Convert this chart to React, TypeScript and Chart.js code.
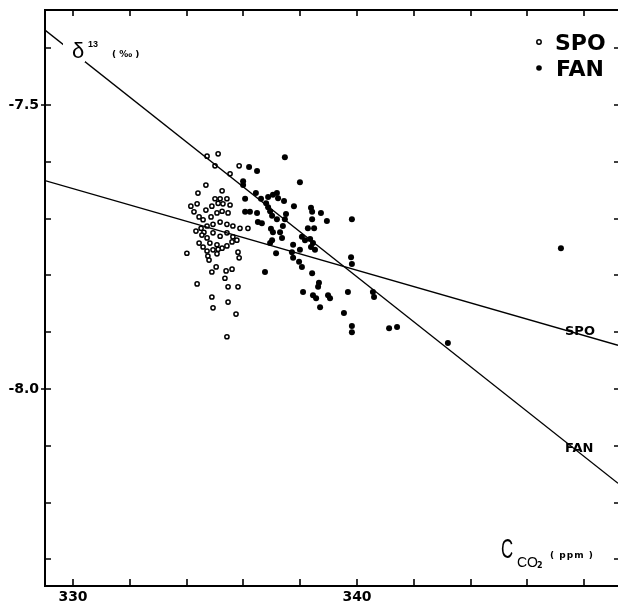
import React, { useEffect, useRef } from "react";
import { Chart, registerables } from "chart.js";

Chart.register(...registerables);

// ---- data ----
const SPO_X = [
  334.72, 335.11, 335.0, 335.85, 335.53, 334.68, 334.4, 335.25, 335.0, 335.18,
  335.42, 334.15, 334.37, 334.68, 334.89, 335.11, 335.28, 335.53, 334.26, 334.44,
  334.86, 335.07, 335.25, 335.46, 334.58, 334.33, 334.51, 334.61, 334.72, 334.93,
  335.18, 335.42, 335.63, 335.88, 336.16, 334.54, 334.72, 334.93, 335.18, 335.42,
  335.63, 335.77, 334.44, 334.58, 334.82, 335.07, 335.25, 335.42, 335.6, 334.01,
  334.72, 334.93, 335.11, 334.75, 335.07, 335.81, 335.85, 334.79, 335.04, 334.89,
  335.39, 335.6, 335.35, 334.37, 335.46, 335.81, 334.89, 335.46, 334.93, 335.74,
  335.42,
];
const SPO_Y = [
  -7.59, -7.586, -7.607, -7.607, -7.621, -7.641, -7.655, -7.651, -7.665, -7.665,
  -7.665, -7.678, -7.674, -7.685, -7.678, -7.673, -7.674, -7.676, -7.688, -7.697,
  -7.697, -7.69, -7.687, -7.69, -7.702, -7.722, -7.717, -7.724, -7.713, -7.71,
  -7.706, -7.71, -7.713, -7.717, -7.717, -7.729, -7.734, -7.725, -7.731, -7.725,
  -7.732, -7.738, -7.743, -7.75, -7.743, -7.746, -7.752, -7.748, -7.741, -7.761,
  -7.757, -7.755, -7.754, -7.766, -7.762, -7.759, -7.769, -7.773, -7.785, -7.794,
  -7.792, -7.789, -7.805, -7.815, -7.82, -7.82, -7.838, -7.847, -7.857, -7.868,
  -7.908,
];
const FAN_X = [
  337.46, 336.2, 336.48, 337.99, 335.99, 335.99, 336.44, 336.62, 336.87, 337.04,
  337.18, 337.22, 337.43, 336.06, 336.8, 336.87, 336.94, 337.01, 336.06, 336.23,
  336.48, 337.78, 338.38, 338.42, 338.73, 338.94, 338.42, 339.82, 336.51, 336.65,
  337.18, 337.5, 337.46, 337.39, 336.97, 337.04, 337.29, 337.36, 337.01, 336.94,
  337.15, 337.75, 337.71, 337.75, 337.99, 338.06, 338.17, 338.35, 338.45, 338.38,
  338.52, 337.96, 338.06, 338.27, 338.49, 336.76, 338.42, 338.66, 338.63, 338.1,
  338.45, 338.56, 338.98, 339.05, 338.7, 339.68, 339.79, 339.82, 339.54, 339.82,
  339.82, 340.56, 340.6, 341.13, 341.41, 343.2, 347.18,
];
const FAN_Y = [
  -7.592, -7.609, -7.616, -7.636, -7.634, -7.641, -7.655, -7.665, -7.662, -7.658,
  -7.655, -7.664, -7.669, -7.665, -7.673, -7.68, -7.687, -7.695, -7.688, -7.688,
  -7.69, -7.678, -7.681, -7.688, -7.69, -7.704, -7.701, -7.701, -7.706, -7.708,
  -7.701, -7.692, -7.701, -7.713, -7.718, -7.724, -7.724, -7.734, -7.738, -7.743,
  -7.761, -7.746, -7.759, -7.769, -7.755, -7.732, -7.738, -7.736, -7.743, -7.75,
  -7.755, -7.776, -7.785, -7.717, -7.717, -7.794, -7.796, -7.813, -7.82, -7.829,
  -7.835, -7.84, -7.835, -7.84, -7.856, -7.829, -7.768, -7.78, -7.866, -7.889,
  -7.9, -7.829, -7.838, -7.893, -7.891, -7.919, -7.752,
];
// regression lines (end points)
const FIT_X = [329.014, 349.19];
const SPO_FIT_Y = [-7.633, -7.923];
const FAN_FIT_Y = [-7.368, -8.166];

const X_MIN = 329.014;
const X_MAX = 349.19;
const Y_MIN = -8.3468;
const Y_MAX = -7.3327;
const X_TICKS = [330, 332, 334, 336, 338, 340, 342, 344, 346, 348];
const X_LABELS = [330, 340];
const Y_TICKS = [-7.4, -7.5, -7.6, -7.7, -7.8, -7.9, -8.0, -8.1, -8.2, -8.3];
const Y_LABELS = [-7.5, -8.0];

const toPts = (xs: number[], ys: number[]) => xs.map((x, i) => ({ x, y: ys[i] }));
const has = (arr: number[], v: number) => arr.some((a) => Math.abs(a - v) < 1e-6);

const framePlugin = {
  id: "frame",
  afterDatasetsDraw(chart: any) {
    const { ctx, chartArea, scales } = chart;
    const { left, top, right, bottom } = chartArea;
    const xs = scales.x;
    const ys = scales.y;
    ctx.save();
    ctx.strokeStyle = "#000";
    ctx.lineWidth = 2;
    ctx.beginPath();
    ctx.moveTo(left - 1, top);
    ctx.lineTo(right, top);
    ctx.moveTo(left, top - 1);
    ctx.lineTo(left, bottom + 1);
    ctx.moveTo(left - 1, bottom);
    ctx.lineTo(right, bottom);
    ctx.stroke();
    ctx.lineWidth = 1.6;
    ctx.beginPath();
    X_TICKS.forEach((v) => {
      const px = Math.round(xs.getPixelForValue(v));
      ctx.moveTo(px, top);
      ctx.lineTo(px, top + 6);
      ctx.moveTo(px, bottom);
      ctx.lineTo(px, bottom - 7);
    });
    Y_TICKS.forEach((v) => {
      const py = Math.round(ys.getPixelForValue(v));
      ctx.moveTo(has(Y_LABELS, v) ? left - 4 : left, py);
      ctx.lineTo(left + 6, py);
      ctx.moveTo(right - 4, py);
      ctx.lineTo(right, py);
    });
    ctx.stroke();

    // delta label with white background breaking the line
    const dx = left + 27;
    const dy = top + 48;
    ctx.fillStyle = "#fff";
    ctx.fillRect(dx - 9, dy - 22, 22, 26);
    ctx.fillStyle = "#000";
    ctx.textBaseline = "alphabetic";
    ctx.textAlign = "left";
    ctx.font = "22px 'Liberation Sans'";
    ctx.fillText("δ", dx, dy);
    ctx.font = "bold 9px 'Liberation Sans'";
    ctx.fillText("13", dx + 16, dy - 11);
    ctx.font = "bold 9px 'DejaVu Sans'";
    ctx.fillText("( ‰ )", dx + 40, dy - 1);

    // legend (top right)
    ctx.lineWidth = 1.5;
    ctx.beginPath();
    ctx.arc(539, top + 32, 2.2, 0, Math.PI * 2);
    ctx.stroke();
    ctx.beginPath();
    ctx.arc(539, top + 58, 2.8, 0, Math.PI * 2);
    ctx.fill();
    ctx.font = "bold 22px 'DejaVu Sans'";
    ctx.fillText("SPO", 555, top + 40);
    ctx.fillText("FAN", 556, top + 66);

    // line labels
    ctx.font = "bold 13px 'DejaVu Sans'";
    ctx.fillText("SPO", 565, ys.getPixelForValue(-7.5) + 230);
    ctx.fillText("FAN", 565, ys.getPixelForValue(-7.5) + 347);

    // x axis title
    const cy = bottom - 28;
    ctx.save();
    ctx.translate(501, cy);
    ctx.scale(0.6, 1);
    ctx.font = "28px 'Liberation Sans'";
    ctx.fillText("C", 0, 0);
    ctx.restore();
    ctx.font = "14px 'Liberation Sans'";
    ctx.fillText("CO", 517, cy + 9);
    ctx.font = "bold 8px 'DejaVu Sans'";
    ctx.fillText("2", 537, cy + 10);
    ctx.font = "bold 9px 'DejaVu Sans'";
    (ctx as any).letterSpacing = "1px";
    ctx.fillText("( ppm )", 550, cy);
    ctx.restore();
  },
};

export default function App() {
  const ref = useRef<HTMLCanvasElement | null>(null);
  useEffect(() => {
    if (!ref.current) return;
    const tickFont = { family: "'DejaVu Sans'", size: 14, weight: "bold" as const };
    const chart = new Chart(ref.current, {
      type: "scatter",
      data: {
        datasets: [
          {
            type: "line",
            label: "SPO fit",
            data: toPts(FIT_X, SPO_FIT_Y),
            borderColor: "#000",
            borderWidth: 1.3,
            pointRadius: 0,
            fill: false,
          } as any,
          {
            type: "line",
            label: "FAN fit",
            data: toPts(FIT_X, FAN_FIT_Y),
            borderColor: "#000",
            borderWidth: 1.3,
            pointRadius: 0,
            fill: false,
          } as any,
          {
            label: "SPO",
            data: toPts(SPO_X, SPO_Y),
            pointStyle: "circle",
            pointRadius: 2.1,
            pointBorderWidth: 1.5,
            borderColor: "#000",
            backgroundColor: "#fff",
          },
          {
            label: "FAN",
            data: toPts(FAN_X, FAN_Y),
            pointStyle: "circle",
            pointRadius: 3,
            pointBorderWidth: 0,
            borderColor: "#000",
            backgroundColor: "#000",
          },
        ],
      },
      options: {
        animation: false,
        responsive: false,
        maintainAspectRatio: false,
        layout: { autoPadding: false, padding: { top: 10, right: 0, left: 0, bottom: 0 } },
        plugins: { legend: { display: false }, tooltip: { enabled: false } },
        scales: {
          x: {
            type: "linear",
            min: X_MIN,
            max: X_MAX,
            grid: { display: false, drawTicks: false },
            border: { display: false },
            afterBuildTicks: (s: any) => {
              s.ticks = X_TICKS.map((v) => ({ value: v }));
            },
            afterFit: (s: any) => {
              s.height = 19;
              s.paddingLeft = 0;
              s.paddingRight = 0;
            },
            ticks: {
              autoSkip: false,
              maxRotation: 0,
              padding: 3,
              color: "#000",
              font: tickFont,
              callback: (v: any) => (has(X_LABELS, Number(v)) ? String(v) : ""),
            },
          },
          y: {
            type: "linear",
            min: Y_MIN,
            max: Y_MAX,
            grid: { display: false, drawTicks: false },
            border: { display: false },
            afterBuildTicks: (s: any) => {
              s.ticks = Y_TICKS.map((v) => ({ value: v }));
            },
            afterFit: (s: any) => {
              s.width = 45;
              s.paddingTop = 0;
              s.paddingBottom = 0;
            },
            ticks: {
              autoSkip: false,
              padding: 6,
              color: "#000",
              font: tickFont,
              callback: (v: any) => (has(Y_LABELS, Number(v)) ? Number(v).toFixed(1) : ""),
            },
          },
        },
      },
      plugins: [framePlugin],
    });
    return () => chart.destroy();
  }, []);
  return (
    <div style={{ position: "fixed", left: 0, top: 0, width: 618, height: 605, background: "#fff" }}>
      <canvas ref={ref} width={618} height={605} style={{ display: "block", width: 618, height: 605 }} />
    </div>
  );
}
